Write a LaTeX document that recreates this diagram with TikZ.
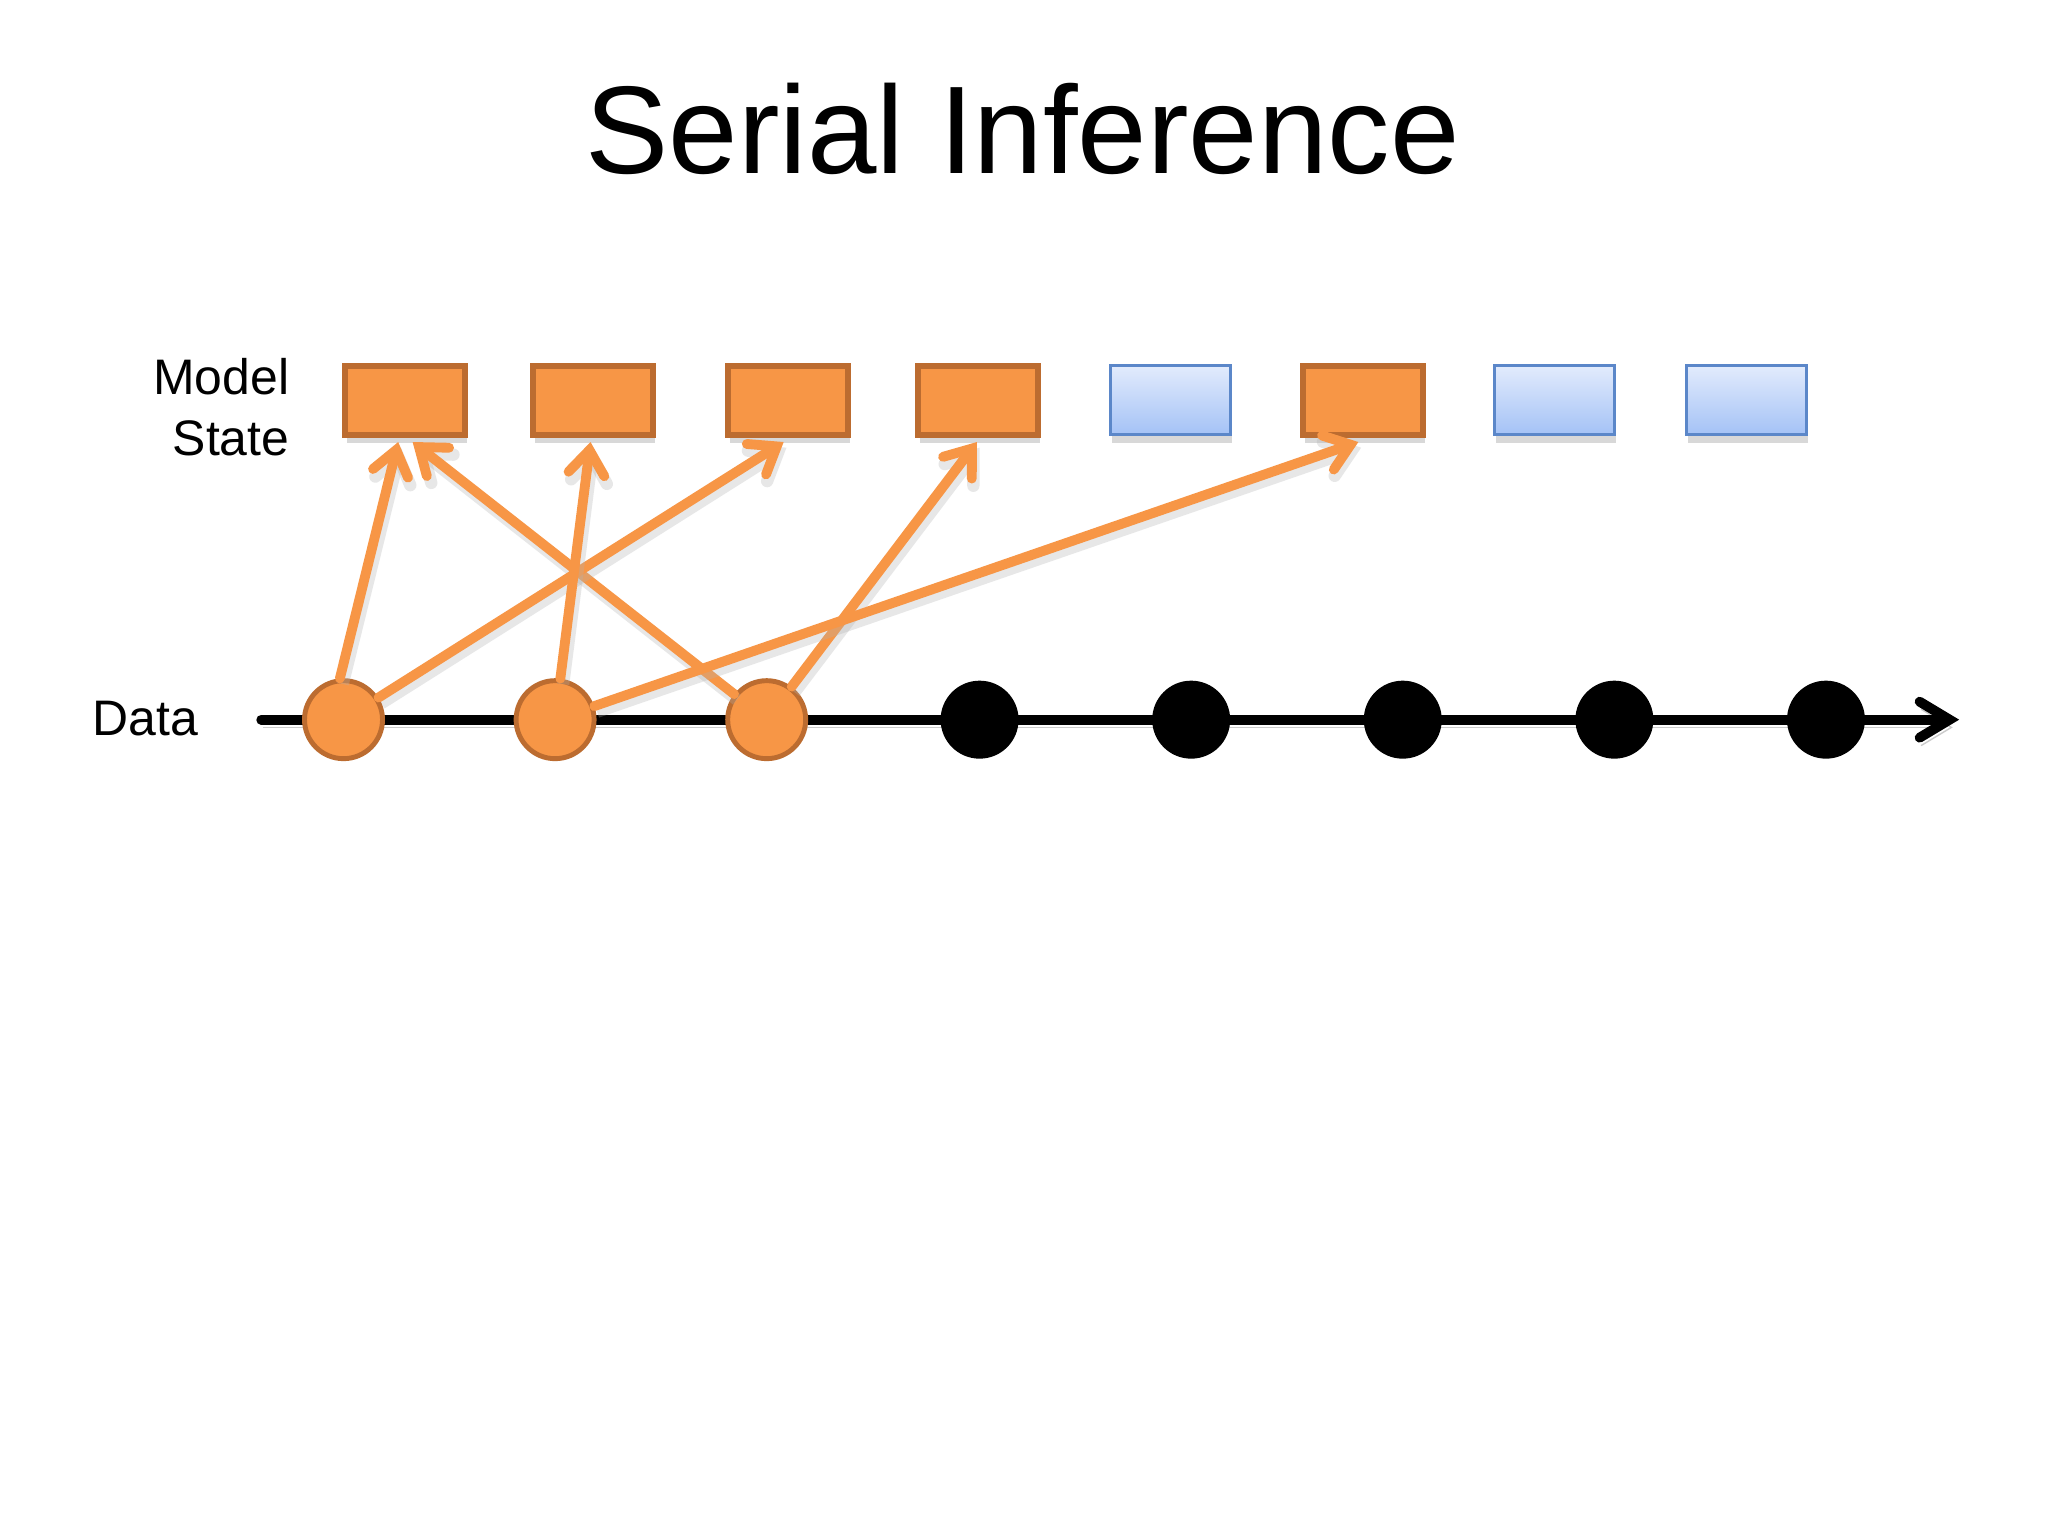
\documentclass[tikz,border=0pt]{standalone}
\usepackage{fontspec}
\setmainfont{Liberation Sans}
\usetikzlibrary{arrows.meta,shadows}
\definecolor{org}{HTML}{F79646}
\definecolor{orgdark}{RGB}{188,108,48}
\definecolor{bluetop}{HTML}{E2EBFC}
\definecolor{bluebot}{HTML}{A4C2F6}
\definecolor{blueedge}{HTML}{5B87C9}
\begin{document}
\begin{tikzpicture}[x=0.0130612cm,y=-0.0130612cm,
  statebox/.style={rectangle, minimum width=1.2cm, minimum height=0.69cm, inner sep=0pt,
    drop shadow={shadow xshift=0.6pt, shadow yshift=-2.2pt, opacity=0.25, fill=black!60}},
  done/.style={statebox, fill=org, draw=orgdark, line width=1.7pt},
  todo/.style={statebox, top color=bluetop, bottom color=bluebot, draw=blueedge, line width=0.8pt},
  datum/.style={circle, minimum size=0.78cm, inner sep=0pt},
  used/.style={datum, fill=org, draw=orgdark, line width=1.4pt},
  unused/.style={datum, fill=black},
  upd/.style={draw=org, line width=2.8pt, line cap=round,
    -{Straight Barb[length=0.24cm,width=0.36cm,line cap=round]},
    preaction={draw=black!30, opacity=0.3, line width=3.5pt, transform canvas={xshift=0.8pt,yshift=-1.6pt}}},
  axisline/.style={draw=black, line width=2.8pt, line cap=round,
    -{Straight Barb[length=0.3cm,width=0.36cm,line cap=round]},
    preaction={draw=black!40, opacity=0.5, transform canvas={xshift=0.5pt,yshift=-2.2pt}}},
  lbl/.style={font=\fontsize{14.2}{17.5}\selectfont},
  ttl/.style={font=\fontsize{35.5}{40}\selectfont}
]
\useasboundingbox[fill=white] (0,0) rectangle (1568,1176);

\node[ttl, anchor=base] (title) at (783,133) {Serial Inference};
\node[lbl, anchor=base east, align=right, inner sep=0pt] (ms) at (222,349) {Model\\State};
\node[lbl, anchor=base east, inner sep=0pt] (data) at (152,563) {Data};

% model state boxes
\node[done] (b1) at (310,306.5) {};
\node[done] (b2) at (454,306.5) {};
\node[done] (b3) at (603.5,306.5) {};
\node[done] (b4) at (749,306.5) {};
\node[todo] (b5) at (896,306.5) {};
\node[done] (b6) at (1043.5,306.5) {};
\node[todo] (b7) at (1190,306.5) {};
\node[todo] (b8) at (1337,306.5) {};

% time axis
\coordinate (s) at (200,551);
\coordinate (e) at (1500,551);
\draw[axisline] (s) -- (e);

% data points
\node[used] (c1) at (263,551) {};
\node[used] (c2) at (425,551) {};
\node[used] (c3) at (587,551) {};
\node[unused] (c4) at (750,551) {};
\node[unused] (c5) at (912,551) {};
\node[unused] (c6) at (1074,551) {};
\node[unused] (c7) at (1236,551) {};
\node[unused] (c8) at (1398,551) {};

% updates
\draw[upd] (c1.95) -- ([xshift=-1.9pt,yshift=-1.2pt]b1.south);
\draw[upd] (c3) -- ([xshift=2.2pt,yshift=-1.2pt]b1.south);
\draw[upd] (c1) -- ([xshift=-1.3pt,yshift=-1.2pt]b3.south);
\draw[upd] (c2) -- ([xshift=-0.7pt,yshift=-1.2pt]b2.south);
\draw[upd] (c3) -- ([xshift=-0.4pt,yshift=-1.2pt]b4.south);
\draw[upd] (c2) -- ([xshift=-1.3pt,yshift=-1.2pt]b6.south);
\end{tikzpicture}
\end{document}
